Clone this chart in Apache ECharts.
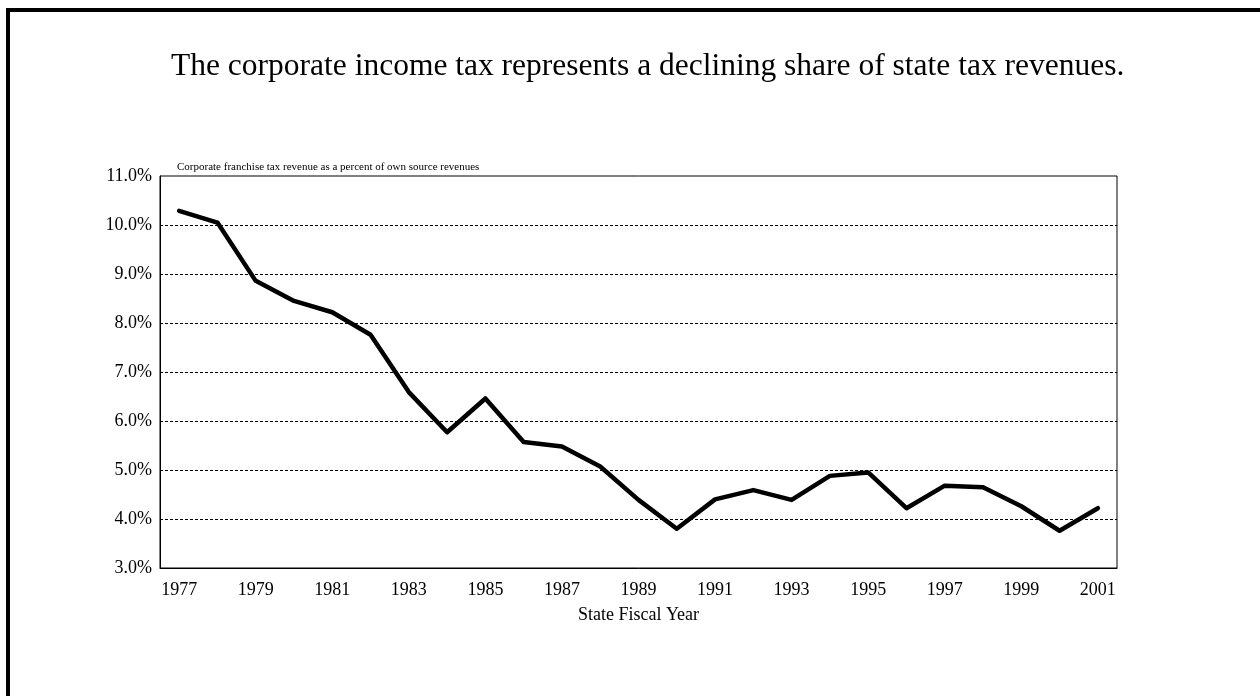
<!DOCTYPE html>
<html>
<head>
<meta charset="utf-8">
<script src="https://cdn.jsdelivr.net/npm/echarts@6/dist/echarts.min.js"></script>
<style>
    html, body { margin: 0; padding: 0; background: #fff; }
    .frame {
        position: absolute; left: 6px; top: 8px; width: 1300px; height: 720px;
        border-left: 4px solid #000; border-top: 4px solid #000;
    }
    #chart { position: absolute; left: 0; top: 0; width: 1260px; height: 696px; }
</style>
</head>
<body>
<div class="frame"></div>
<div id="chart"></div>
<script>
    // 数据
    const years = ['1977', '1978', '1979', '1980', '1981', '1982', '1983', '1984', '1985', '1986',
        '1987', '1988', '1989', '1990', '1991', '1992', '1993', '1994', '1995', '1996',
        '1997', '1998', '1999', '2000', '2001']
    const sharePct = [10.29, 10.05, 8.86, 8.45, 8.22, 7.76, 6.59, 5.77, 6.46, 5.57,
        5.48, 5.07, 4.39, 3.80, 4.40, 4.59, 4.39, 4.88, 4.95, 4.22,
        4.68, 4.65, 4.26, 3.76, 4.22]

    const serif = '"Liberation Serif", "DejaVu Serif", serif'
    const chart = echarts.init(document.getElementById('chart'))

    chart.setOption({
        animation: false,
        // 标题
        title: [{
            text: 'The corporate income tax represents a declining share of state tax revenues.',
            left: 166,
            top: 46,
            textStyle: { fontFamily: serif, fontSize: 31.5, fontWeight: 'normal', color: '#000' }
        }, {
            text: 'Corporate franchise tax revenue as a percent of own source revenues',
            left: 172,
            top: 157,
            textStyle: { fontFamily: serif, fontSize: 11, fontWeight: 'normal', color: '#000' }
        }],
        grid: {
            left: 160, top: 176, right: 143, bottom: 128,
            show: true, borderColor: '#000', borderWidth: 1
        },
        xAxis: {
            type: 'category',
            data: years,
            boundaryGap: true,
            name: 'State Fiscal Year',
            nameLocation: 'middle',
            nameGap: 38,
            nameTextStyle: { fontFamily: serif, fontSize: 18, color: '#000' },
            axisLine: { lineStyle: { color: '#000', width: 1 } },
            axisTick: { show: false },
            axisLabel: { interval: 1, margin: 13, fontFamily: serif, fontSize: 18, color: '#000' }
        },
        yAxis: {
            type: 'value',
            min: 3, max: 11, interval: 1,
            axisLine: { show: true, lineStyle: { color: '#000', width: 1 } },
            axisTick: { show: false },
            axisLabel: {
                margin: 8, fontFamily: serif, fontSize: 18, color: '#000',
                formatter: v => v.toFixed(1) + '%'
            },
            splitLine: {
                show: true, showMinLine: false, showMaxLine: false,
                lineStyle: { color: '#000', width: 1, type: [3, 2] }
            }
        },
        series: [{
            type: 'line',
            data: sharePct,
            showSymbol: false,
            lineStyle: { color: '#000', width: 4.5, cap: 'round', join: 'round' }
        }]
    })
</script>
</body>
</html>
